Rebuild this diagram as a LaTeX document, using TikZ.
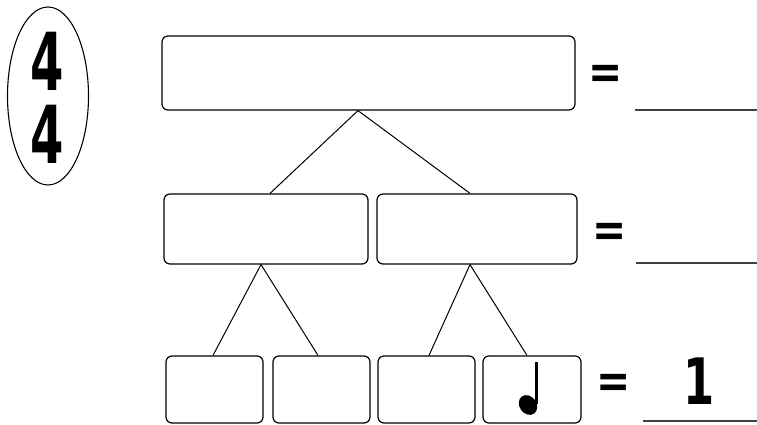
\documentclass[tikz,border=0pt]{standalone}
\usepackage{fontspec}
\setmainfont{DejaVu Sans}
\usetikzlibrary{shapes.geometric}
\begin{document}
\begin{tikzpicture}[x=1pt,y=-1pt,
  box/.style={draw=black, line width=1.2pt, rounded corners=6pt, inner sep=0pt, fill=none},
  link/.style={draw=black, line width=1pt},
  eqsign/.style={inner sep=0pt, xscale=0.85, font=\fontsize{48}{48}\selectfont\bfseries},
  blank/.style={draw=black!75, line width=2pt},
  digit/.style={inner sep=0pt, xscale=0.6, font=\fontsize{80}{80}\selectfont\bfseries}]
\useasboundingbox (0,0) rectangle (757,425);
% time signature
\node[draw=black, line width=1.1pt, ellipse, minimum width=81, minimum height=178, inner sep=0pt] (ts) at (48,96) {};
\node[digit] (d1) at (47,61) {4};
\node[digit] (d2) at (47,134) {4};
% boxes
\node[box, minimum width=413, minimum height=74] (top) at (368.5,73) {};
\node[box, minimum width=204, minimum height=70] (m1) at (266,229) {};
\node[box, minimum width=200, minimum height=70] (m2) at (477,229) {};
\node[box, minimum width=97, minimum height=67] (b1) at (214.5,389.5) {};
\node[box, minimum width=97, minimum height=67] (b2) at (321.5,389.5) {};
\node[box, minimum width=97, minimum height=67] (b3) at (426.5,389.5) {};
\node[box, minimum width=98, minimum height=67] (b4) at (532,389.5) {};
% connectors
\draw[link] ([xshift=-10.5]top.south) -- ([xshift=4]m1.north);
\draw[link] ([xshift=-10.5]top.south) -- ([xshift=-7]m2.north);
\draw[link] ([xshift=-5]m1.south) -- ([xshift=-1.5]b1.north);
\draw[link] ([xshift=-5]m1.south) -- ([xshift=-3.5]b2.north);
\draw[link] ([xshift=-7]m2.south) -- ([xshift=2.5]b3.north);
\draw[link] ([xshift=-7]m2.south) -- ([xshift=-5]b4.north);
% quarter note
\fill[black, rotate around={35:(528,405)}] (528,405) ellipse (8.5 and 10.5);
\draw[black, line width=3.5pt] (536.5,404) -- (536.5,362);
% equals and blanks
\node[eqsign] (e1) at (605.5,77) {=};
\node[eqsign] (e2) at (610,235) {=};
\node[eqsign] (e3) at (614,386) {=};
\coordinate (l1a) at (635,110); \coordinate (l1b) at (757,110);
\coordinate (l2a) at (636,263); \coordinate (l2b) at (757,263);
\coordinate (l3a) at (643,421); \coordinate (l3b) at (757,421);
\draw[blank] (l1a) -- (l1b);
\draw[blank] (l2a) -- (l2b);
\draw[blank] (l3a) -- (l3b);
\node[inner sep=0pt, xscale=0.7, font=\fontsize{64}{64}\selectfont\bfseries] (one) at (699,381) {1};
\end{tikzpicture}
\end{document}
